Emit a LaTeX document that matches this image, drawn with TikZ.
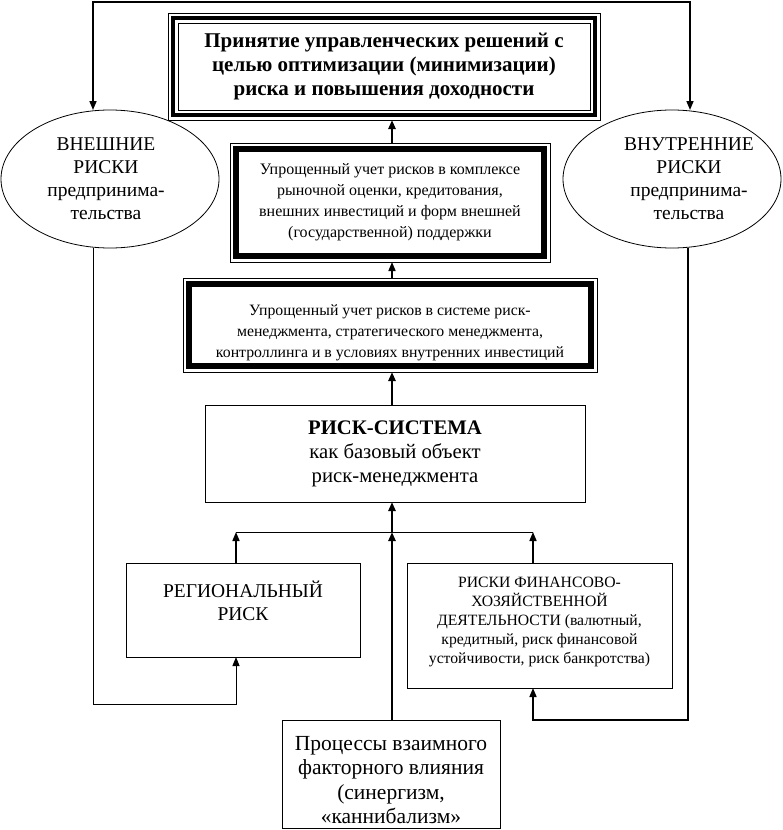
\documentclass[tikz,border=0pt]{standalone}
\usepackage{fontspec}
\setmainfont{Liberation Serif}
\usetikzlibrary{shapes.geometric,arrows.meta}
\tikzset{
	box/.style={draw, line width=0.8pt, inner sep=0pt, outer sep=0pt, align=center},
	oval/.style={draw, ellipse, line width=0.8pt, inner sep=0pt, outer sep=0pt,
		minimum width=218pt, minimum height=138pt},
	boxtext/.style={align=center, inner sep=0pt},
	ovaltext/.style={boxtext, font=\fontsize{19.5}{23}\selectfont},
	tip/.style={-{Triangle[length=9pt,width=7pt]}},
	conn/.style={tip, line width=1pt},
	midconn/.style={tip, line width=1.6pt},
	heavyconn/.style={tip, line width=2.8pt},
}
\begin{document}
\begin{tikzpicture}[x=1pt,y=-1pt]
	\useasboundingbox (0,0) rectangle (783,830);
	\node (toproc) [box, minimum width=432pt, minimum height=107pt, font=\bfseries\fontsize{21}{24}\selectfont] at (384,66.5)
		{Принятие управленческих решений с\\целью оптимизации (минимизации)\\риска и повышения доходности};
	\draw [line width=4pt] ([shift={(5,5)}]toproc.north west) rectangle ([shift={(-5,-5)}]toproc.south east);
	\draw [line width=0.8pt] ([shift={(10,10)}]toproc.north west) rectangle ([shift={(-10,-10)}]toproc.south east);
	\node (mid) [box, minimum width=320pt, minimum height=119pt, font=\fontsize{16}{21}\selectfont] at (390,202.5)
		{Упрощенный учет рисков в комплексе\\рыночной оценки, кредитования,\\внешних инвестиций и форм внешней\\(государственной) поддержки};
	\draw [line width=5.5pt] ([shift={(6,6)}]mid.north west) rectangle ([shift={(-6,-6)}]mid.south east);
	\node (low) [box, minimum width=414pt, minimum height=94pt,
		label={[name=lowtext, boxtext, yshift=-8pt, font=\fontsize{15.8}{21}\selectfont]center:{Упрощенный учет рисков в системе риск-\\менеджмента, стратегического менеджмента,\\контроллинга и в условиях внутренних инвестиций}}] at (390,325) {};
	\draw [line width=6pt] ([shift={(6,6)}]low.north west) rectangle ([shift={(-6,-6)}]low.south east);
	\node (core) [box, minimum width=380pt, minimum height=97pt, font=\fontsize{20.7}{24}\selectfont] at (395,453.5)
		{\textbf{РИСК-СИСТЕМА}\\как базовый объект\\риск-менеджмента};
	\node (lext) [oval, label={[name=lexttext, ovaltext, xshift=-4pt]center:{ВНЕШНИЕ\\РИСКИ\\предпринима-\\тельства}}] at (110,179) {};
	\node (rext) [oval, label={[name=rexttext, ovaltext, xshift=17pt]center:{ВНУТРЕННИЕ\\РИСКИ\\предпринима-\\тельства}}] at (672,179) {};
	\node (regional) [box, minimum width=234pt, minimum height=94pt,
		label={[name=regionaltext, boxtext, yshift=9pt, font=\fontsize{19.5}{23}\selectfont]center:{РЕГИОНАЛЬНЫЙ\\РИСК}}] at (243,610) {};
	\node (fin) [box, minimum width=265pt, minimum height=125pt,
		label={[name=fintext, boxtext, yshift=4pt, font=\fontsize{15.7}{19}\selectfont]center:{РИСКИ ФИНАНСОВО-\\ХОЗЯЙСТВЕННОЙ\\ДЕЯТЕЛЬНОСТИ (валютный,\\кредитный, риск финансовой\\устойчивости, риск банкротства)}}] at (539.5,625.5) {};
	\node (process) [box, minimum width=218pt, minimum height=108pt,
		label={[name=processtext, boxtext, yshift=-6pt, font=\fontsize{21.5}{24.5}\selectfont]center:{Процессы взаимного\\факторного влияния\\(синергизм,\\«каннибализм»}}] at (391,774) {};
	\coordinate (ltop) at (93,2);
	\coordinate (rtop) at (690,2);
	\coordinate (jl) at (236,532);
	\coordinate (jm) at (392,532);
	\coordinate (jr) at (533,532);
	\coordinate (lbot) at (93,704);
	\coordinate (rbot) at (688,720);
	\draw [line width=1.6pt, {Triangle[length=9pt,width=7pt]}-{Triangle[length=9pt,width=7pt]}] (lext.north -| ltop) -- (ltop) -- (rtop) -- (rext.north -| rtop);
	\draw [heavyconn] (mid.north -| jm) -- (toproc.south -| jm);
	\draw [midconn] (low.north -| jm) -- (mid.south -| jm);
	\draw [heavyconn] (core.north -| jm) -- (low.south -| jm);
	\draw [heavyconn] (jm) -- (core.south -| jm);
	\draw [heavyconn] (process.north -| jm) -- (jm);
	\draw [line width=0.8pt] (jl) -- (jr);
	\draw [midconn] (regional.north -| jl) -- (jl);
	\draw [midconn] (fin.north -| jr) -- (jr);
	\draw [conn] (lext.south -| lbot) -- (lbot) -| (regional.south -| jl);
	\draw [midconn] (rext.south -| rbot) -- (rbot) -| (fin.south -| jr);
\end{tikzpicture}
\end{document}
